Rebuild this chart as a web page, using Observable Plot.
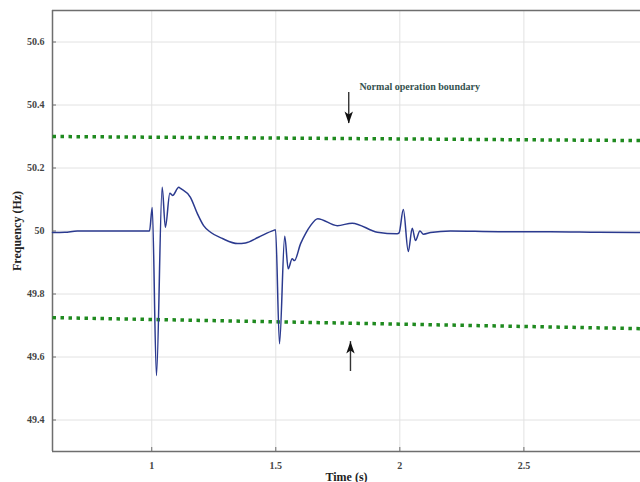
<!DOCTYPE html>
<html>
<head>
<meta charset="utf-8">
<script src="https://cdn.jsdelivr.net/npm/d3@7"></script>
<script src="https://cdn.jsdelivr.net/npm/@observablehq/plot@0.6"></script>
<style>
  html, body { margin: 0; padding: 0; background: #fff; overflow: hidden; }
  svg { font-family: "Liberation Serif", "DejaVu Serif", serif; }
</style>
</head>
<body>
<div id="chart"></div>
<script>
// Frequency response signal (time in s, frequency in Hz)
const time = [0.6, 0.65, 0.7, 0.8, 0.991, 1.002, 1.019, 1.042, 1.055, 1.073, 1.084, 1.109, 1.116, 1.156, 1.184, 1.209, 1.237, 1.285, 1.346, 1.378, 1.43, 1.491, 1.499, 1.515, 1.536, 1.55, 1.566, 1.575, 1.6, 1.62, 1.64, 1.669, 1.748, 1.808, 1.909, 1.989, 1.997, 2.014, 2.034, 2.05, 2.063, 2.081, 2.095, 2.124, 2.204, 2.4, 2.607, 2.8, 2.97];
const freq = [49.995, 49.996, 50.0, 50.0, 50.0, 50.075, 49.541, 50.139, 50.012, 50.12, 50.113, 50.139, 50.135, 50.107, 50.055, 50.017, 49.996, 49.976, 49.96, 49.962, 49.98, 50.002, 50.004, 49.642, 49.983, 49.88, 49.912, 49.906, 49.96, 49.992, 50.017, 50.039, 50.017, 50.025, 49.996, 49.991, 49.994, 50.068, 49.935, 50.009, 49.97, 50.0, 49.99, 49.995, 50.0, 49.998, 49.998, 49.996, 49.995];

// Normal operation boundaries (dotted green lines)
const boundaryTime = [0.6, 2.97];
const upperBoundary = [50.30, 50.287];
const lowerBoundary = [49.725, 49.69];

// Annotation
const annotationText = "Normal operation boundary";
const annotationPos = {t: 1.837, f: 50.459};
const arrowDown = {t: 1.794, f1: 50.44, f2: 50.341, rotate: 0};
const arrowUp = {t: 1.801, f1: 49.554, f2: 49.649, rotate: 180};

// Axes
const xDomain = [0.6, 2.97];
const yDomain = [49.3, 50.7];
const xTicks = [1, 1.5, 2, 2.5];
const yTicks = [49.4, 49.6, 49.8, 50, 50.2, 50.4, 50.6];
const xLabel = "Time (s)";
const yLabel = "Frequency (Hz)";

const signal = time.map((t, i) => ({t, f: freq[i]}));
const upper = boundaryTime.map((t, i) => ({t, f: upperBoundary[i]}));
const lower = boundaryTime.map((t, i) => ({t, f: lowerBoundary[i]}));

const frameColor = "#6e6e6e";
const fmt = d => `${d}`;

// narrow filled arrowhead, tip at origin pointing down
const arrowHead = {
  draw(ctx) {
    ctx.moveTo(0, 0);
    ctx.lineTo(-4.2, -12);
    ctx.lineTo(0, -9);
    ctx.lineTo(4.2, -12);
    ctx.closePath();
  }
};

const chart = Plot.plot({
  width: 640,
  height: 482,
  marginLeft: 52,
  marginRight: 0,
  marginTop: 10,
  marginBottom: 31,
  style: {fontFamily: "Liberation Serif, serif", background: "#fff"},
  x: {domain: xDomain},
  y: {domain: yDomain},
  marks: [
    Plot.gridX(xTicks, {stroke: "#e2e2e2", strokeOpacity: 1, strokeWidth: 1}),
    Plot.gridY(yTicks, {stroke: "#e2e2e2", strokeOpacity: 1, strokeWidth: 1}),
    Plot.axisX(xTicks, {tickSize: 0, tickPadding: 10, fontSize: 10, fontWeight: "bold", fill: "#444",
      tickFormat: fmt, label: xLabel, labelAnchor: "center", labelOffset: 29, labelArrow: "none"}),
    Plot.axisX(xTicks, {tickSize: -4, stroke: frameColor, tickFormat: () => "", label: null}),
    Plot.axisY(yTicks, {tickSize: 0, tickPadding: 8, fontSize: 10, fontWeight: "bold", fill: "#444",
      tickFormat: fmt, label: yLabel, labelAnchor: "center", labelOffset: 40, labelArrow: "none"}),
    Plot.axisY(yTicks, {tickSize: -4, stroke: frameColor, tickFormat: () => "", label: null}),
    Plot.ruleX([xDomain[0]], {stroke: frameColor, strokeWidth: 1.5}),
    Plot.ruleY([yDomain[0], yDomain[1]], {stroke: frameColor, strokeWidth: 1.5}),
    Plot.line(upper, {x: "t", y: "f", stroke: "#1f8a1f", strokeWidth: 3.5, strokeDasharray: "3.5,4.5", strokeLinecap: "butt"}),
    Plot.line(lower, {x: "t", y: "f", stroke: "#1f8a1f", strokeWidth: 3.5, strokeDasharray: "3.5,4.5", strokeLinecap: "butt"}),
    Plot.line(signal, {x: "t", y: "f", stroke: "#2b3a8f", strokeWidth: 1.5, curve: "monotone-x"}),
    Plot.ruleX([arrowDown, arrowUp], {x: "t", y1: "f1", y2: "f2", stroke: "#333", strokeWidth: 1.4}),
    Plot.dot([arrowDown, arrowUp], {x: "t", y: "f2", symbol: arrowHead, r: 4, fill: "#111", stroke: "none", rotate: "rotate"}),
    Plot.text([annotationPos], {x: "t", y: "f", text: () => annotationText, textAnchor: "start",
      fontSize: 10, fontWeight: "bold", fill: "#35524f"})
  ]
});

chart.querySelectorAll("g[aria-label='x-axis label'] text, g[aria-label='y-axis label'] text").forEach(t => {
  t.setAttribute("font-size", "12");
  t.setAttribute("font-weight", "bold");
  t.setAttribute("fill", "#222");
});
document.getElementById("chart").appendChild(chart);
</script>
</body>
</html>
